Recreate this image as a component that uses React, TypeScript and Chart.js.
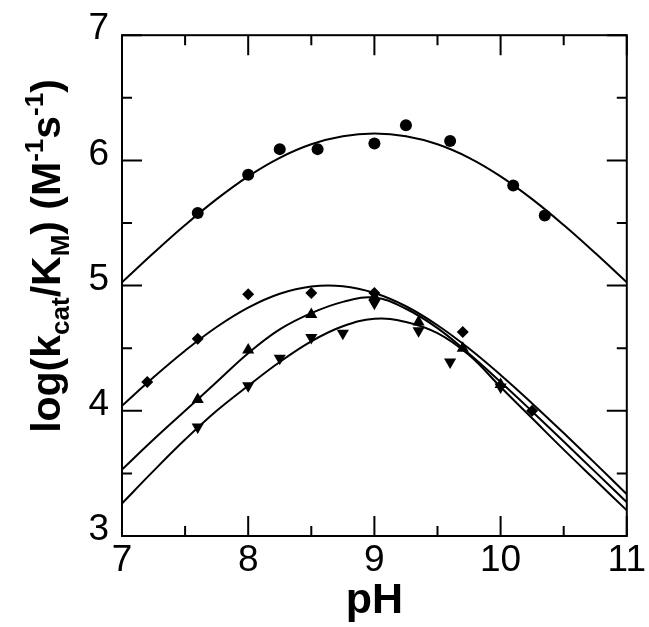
import React, { useEffect, useRef } from "react";
import { Chart, registerables } from "chart.js";

Chart.register(...registerables);

// ---- data ----
const curvePH = [7, 7.25, 7.5, 7.75, 8, 8.25, 8.5, 8.75, 9, 9.25, 9.5, 9.75, 10, 10.25, 10.5, 10.75, 11];
const circleCurve = [5.026, 5.26, 5.484, 5.691, 5.873, 6.021, 6.129, 6.193, 6.214, 6.193, 6.129, 6.021, 5.873, 5.691, 5.484, 5.26, 5.026];
const diamondCurve = [4.04, 4.268, 4.48, 4.669, 4.824, 4.935, 4.993, 4.995, 4.941, 4.835, 4.683, 4.497, 4.286, 4.059, 3.822, 3.58, 3.334];
const upCurve = [3.53, 3.77, 4.0, 4.23, 4.46, 4.65, 4.78, 4.87, 4.905, 4.815, 4.66, 4.455, 4.23, 3.995, 3.755, 3.512, 3.27];
const downCurve = [3.26, 3.52, 3.77, 4.0, 4.2, 4.39, 4.555, 4.675, 4.735, 4.71, 4.62, 4.445, 4.19, 3.94, 3.69, 3.447, 3.205];

const circlePH = [7.6, 8.0, 8.25, 8.55, 9.0, 9.25, 9.6, 10.1, 10.35];
const circleVal = [5.58, 5.885, 6.09, 6.09, 6.135, 6.28, 6.155, 5.8, 5.56];

const diamondPH = [7.2, 7.6, 8.0, 8.5, 9.0, 9.7, 10.25];
const diamondVal = [4.23, 4.575, 4.93, 4.94, 4.94, 4.63, 4.0];

const upPH = [7.6, 8.0, 8.5, 9.0, 9.35, 9.7, 10.0];
const upVal = [4.09, 4.485, 4.77, 4.91, 4.71, 4.5, 4.21];

const downPH = [7.6, 8.0, 8.25, 8.5, 8.75, 9.0, 9.35, 9.6, 10.0];
const downVal = [3.87, 4.2, 4.42, 4.585, 4.62, 4.86, 4.64, 4.39, 4.19];

const xMajorTicks = [7, 8, 9, 10, 11];
const xMinorTicks = [7.5, 8.5, 9.5, 10.5];
const yMajorTicks = [3, 4, 5, 6, 7];
const yMinorTicks = [3.5, 4.5, 5.5, 6.5];

const FONT = "'Liberation Sans', Arial, Helvetica, sans-serif";

const zip = (xs: number[], ys: number[]) => xs.map((x, i) => ({ x, y: ys[i] }));

const framePlugin = {
  id: "frameTicks",
  afterDatasetsDraw(chart: any) {
    const { ctx, chartArea: a, scales } = chart;
    const x = scales.x;
    const y = scales.y;
    ctx.save();
    ctx.strokeStyle = "#000";
    ctx.lineWidth = 2;
    ctx.lineCap = "butt";
    ctx.beginPath();
    const vx = (v: number, len: number) => {
      const px = x.getPixelForValue(v);
      ctx.moveTo(px, a.bottom);
      ctx.lineTo(px, a.bottom - len);
      ctx.moveTo(px, a.top);
      ctx.lineTo(px, a.top + len);
    };
    const vy = (v: number, len: number) => {
      const py = y.getPixelForValue(v);
      ctx.moveTo(a.left, py);
      ctx.lineTo(a.left + len, py);
      ctx.moveTo(a.right, py);
      ctx.lineTo(a.right - len, py);
    };
    xMajorTicks.forEach((v) => vx(v, 20));
    xMinorTicks.forEach((v) => vx(v, 10));
    yMajorTicks.forEach((v) => vy(v, 20));
    yMinorTicks.forEach((v) => vy(v, 10));
    ctx.stroke();
    ctx.strokeRect(a.left, a.top, a.right - a.left, a.bottom - a.top);
    ctx.restore();
  },
};

const yTitlePlugin = {
  id: "yTitle",
  afterDraw(chart: any) {
    const { ctx } = chart;
    const main = 41;
    const small = 26;
    const segs: [string, number, number][] = [
      ["log(k", main, 0],
      ["cat", small, 9],
      ["/K", main, 0],
      ["M", small, 9],
      [") (M", main, 0],
      ["-1", small, -17],
      ["s", main, 0],
      ["-1", small, -17],
      [")", main, 0],
    ];
    ctx.save();
    ctx.fillStyle = "#000";
    let total = 0;
    const widths = segs.map(([t, s]) => {
      ctx.font = `bold ${s}px ${FONT}`;
      const w = ctx.measureText(t).width;
      total += w;
      return w;
    });
    const cx = 60;
    const cy = 256;
    ctx.translate(cx, cy);
    ctx.rotate(-Math.PI / 2);
    ctx.textBaseline = "alphabetic";
    ctx.textAlign = "left";
    let pos = -total / 2;
    segs.forEach(([t, s, dy], i) => {
      ctx.font = `bold ${s}px ${FONT}`;
      ctx.fillText(t, pos, dy);
      pos += widths[i];
    });
    ctx.restore();
  },
};

export default function App() {
  const ref = useRef<HTMLCanvasElement | null>(null);

  useEffect(() => {
    if (!ref.current) return;
    const line = (data: number[]) => ({
      data: zip(curvePH, data),
      showLine: true,
      pointRadius: 0,
      borderColor: "#000",
      borderWidth: 2,
      tension: 0.4,
      fill: false,
      order: 1,
    });
    const pts = (xs: number[], ys: number[], style: string, r: number, rot = 0) => ({
      data: zip(xs, ys),
      showLine: false,
      pointStyle: style,
      pointRadius: r,
      pointRotation: rot,
      backgroundColor: "#000",
      borderColor: "#000",
      borderWidth: 0,
      order: 0,
    });
    const chart = new Chart(ref.current, {
      type: "scatter",
      data: {
        datasets: [
          line(circleCurve),
          line(diamondCurve),
          line(upCurve),
          line(downCurve),
          pts(circlePH, circleVal, "circle", 6),
          pts(diamondPH, diamondVal, "rectRot", 6),
          pts(upPH, upVal, "triangle", 7),
          pts(downPH, downVal, "triangle", 7, 180),
        ] as any,
      },
      options: {
        responsive: false,
        animation: false,
        events: [],
        layout: { padding: { top: 32, right: 22, left: 0, bottom: 0 } },
        plugins: { legend: { display: false }, tooltip: { enabled: false }, title: { display: false } },
        scales: {
          x: {
            type: "linear",
            min: 7,
            max: 11,
            afterBuildTicks: (s: any) => {
              s.ticks = xMajorTicks.map((v) => ({ value: v }));
            },
            ticks: { font: { family: FONT, size: 37 }, color: "#000", padding: 3, maxRotation: 0, autoSkip: false },
            grid: { display: false, drawTicks: false },
            border: { display: false },
            title: { display: true, text: "pH", font: { family: FONT, size: 43, weight: "bold" }, color: "#000", padding: 0 },
            afterFit: (s: any) => {
              s.height = 91;
            },
          },
          y: {
            type: "linear",
            min: 3,
            max: 7,
            afterBuildTicks: (s: any) => {
              s.ticks = yMajorTicks.map((v) => ({ value: v }));
            },
            ticks: { font: { family: FONT, size: 37 }, color: "#000", padding: 13, labelOffset: -6, autoSkip: false },
            grid: { display: false, drawTicks: false },
            border: { display: false },
            afterFit: (s: any) => {
              s.width = 122;
            },
          },
        },
      } as any,
      plugins: [framePlugin, yTitlePlugin],
    });
    return () => chart.destroy();
  }, []);

  return (
    <div style={{ position: "fixed", left: 0, top: 0, width: 649, height: 627, background: "#fff" }}>
      <canvas ref={ref} width={649} height={627} style={{ display: "block" }} />
    </div>
  );
}
